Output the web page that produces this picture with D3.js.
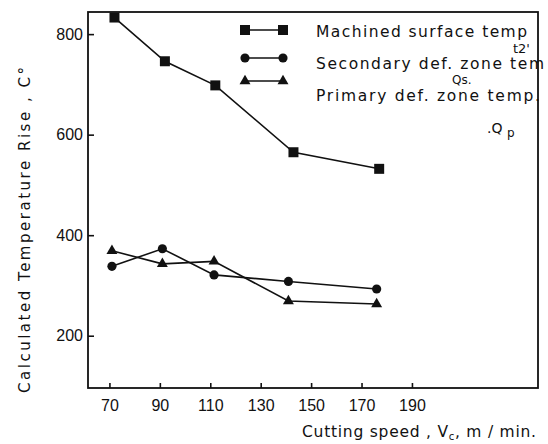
<!DOCTYPE html>
<html lang="en">
<head>
  <meta charset="utf-8">
  <title>Calculated Temperature Rise vs Cutting Speed</title>
  <script src="https://d3js.org/d3.v7.min.js"></script>
  <style>
    body {
      margin: 0;
      background: #fff;
    }
    svg {
      display: block;
      font-family: "DejaVu Sans", sans-serif;
    }
    .tick line {
      stroke: #111;
      stroke-width: 1.6;
    }
    .tick text {
      fill: #111;
      font-size: 16px;
    }
  </style>
</head>
<body>
  <svg width="548" height="444"></svg>

  <script>
  // values
  const xTicks = [70, 90, 110, 130, 150, 170, 190];
  const yTicks = [200, 400, 600, 800];

  const machinedSpeed = [72, 92, 112, 143, 177];
  const machinedTemp = [833, 746, 698, 565, 532];

  const secondarySpeed = [71, 91, 111.5, 141, 176];
  const secondaryTemp = [338, 373, 321, 308, 293];

  const primarySpeed = [71, 91, 111.5, 141, 176];
  const primaryTemp = [369, 343, 348, 269, 263];

  const legendLabels = ["Machined  surface temp", "Secondary  def.  zone tem", "Primary  def.  zone  temp."];

  const svg = d3.select("svg");
  const margin = {left: 88, right: 10, top: 12, bottom: 56};
  const width = 548, height = 444;

  const x = d3.scaleLinear().domain([61.5, 240]).range([margin.left, width - margin.right]);
  const y = d3.scaleLinear().domain([96, 844]).range([height - margin.bottom, margin.top]);

  // frame
  svg.append("rect")
    .attr("x", margin.left)
    .attr("y", margin.top)
    .attr("width", width - margin.right - margin.left)
    .attr("height", height - margin.bottom - margin.top)
    .attr("fill", "none")
    .attr("stroke", "#111")
    .attr("stroke-width", 1.8);

  // axes, ticks pointing inward
  const xAxis = svg.append("g")
    .attr("transform", `translate(0,${height - margin.bottom})`)
    .call(d3.axisBottom(x).tickValues(xTicks).tickSize(-5).tickPadding(12));
  xAxis.select(".domain").remove();

  const yAxis = svg.append("g")
    .attr("transform", `translate(${margin.left},0)`)
    .call(d3.axisLeft(y).tickValues(yTicks).tickSize(-6).tickPadding(5));
  yAxis.select(".domain").remove();

  // axis titles
  svg.append("text")
    .attr("transform", `translate(30,230) rotate(-90)`)
    .attr("text-anchor", "middle")
    .attr("font-size", 15)
    .attr("fill", "#111")
    .attr("textLength", 326)
    .attr("lengthAdjust", "spacing")
    .text("Calculated  Temperature  Rise , C°");

  const xt = svg.append("text")
    .attr("x", 302)
    .attr("y", 437)
    .attr("font-size", 15.5)
    .attr("fill", "#111")
    .attr("textLength", 234)
    .attr("lengthAdjust", "spacing");
  xt.append("tspan").text("Cutting  speed  , V");
  xt.append("tspan").attr("font-size", 10).attr("dy", 3).text("c");
  xt.append("tspan").attr("dy", -3).text(", m / min.");

  // series
  const series = [
    {xs: machinedSpeed, ys: machinedTemp, symbol: d3.symbolSquare, size: 100},
    {xs: secondarySpeed, ys: secondaryTemp, symbol: d3.symbolCircle, size: 66},
    {xs: primarySpeed, ys: primaryTemp, symbol: d3.symbolTriangle, size: 52}
  ];

  const line = d3.line().x(d => x(d[0])).y(d => y(d[1]));

  series.forEach(s => {
    const pts = s.xs.map((v, i) => [v, s.ys[i]]);
    svg.append("path")
      .datum(pts)
      .attr("d", line)
      .attr("fill", "none")
      .attr("stroke", "#111")
      .attr("stroke-width", 1.6);
    svg.selectAll(null)
      .data(pts)
      .enter().append("path")
      .attr("transform", d => `translate(${x(d[0])},${y(d[1])})`)
      .attr("d", d3.symbol().type(s.symbol).size(s.size))
      .attr("fill", "#111");
  });

  // legend
  const legendY = [30, 58, 81];
  const textY = [37, 69, 101];
  series.forEach((s, i) => {
    svg.append("line")
      .attr("x1", 245).attr("x2", 283)
      .attr("y1", legendY[i]).attr("y2", legendY[i])
      .attr("stroke", "#111")
      .attr("stroke-width", 1.6);
    [245, 283].forEach(px => {
      svg.append("path")
        .attr("transform", `translate(${px},${legendY[i]})`)
        .attr("d", d3.symbol().type(s.symbol).size(s.size))
        .attr("fill", "#111");
    });
    svg.append("text")
      .attr("x", 316)
      .attr("y", textY[i])
      .attr("font-size", 15.5)
      .attr("fill", "#111")
      .attr("textLength", [211, 228, 224][i])
      .attr("lengthAdjust", "spacing")
      .text(legendLabels[i]);
  });

  // handwritten annotations
  svg.append("text").attr("x", 513).attr("y", 53).attr("font-size", 13).attr("fill", "#111").text("t2'");
  svg.append("text").attr("x", 452).attr("y", 84).attr("font-size", 12).attr("fill", "#111").text("Qs.");
  svg.append("text").attr("x", 487).attr("y", 133).attr("font-size", 14).attr("fill", "#111").text(".Q");
  svg.append("text").attr("x", 507).attr("y", 137).attr("font-size", 12).attr("fill", "#111").text("p");
</script>

</body>
</html>
